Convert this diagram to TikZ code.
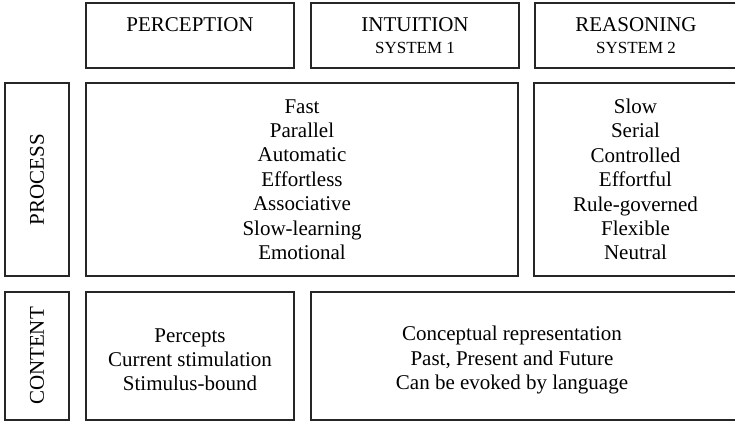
\documentclass[tikz,border=0pt]{standalone}
\usepackage{fontspec}
\setmainfont{Liberation Serif}
\usepackage{tikz}
\usetikzlibrary{positioning}

\newcommand{\bodyfont}{\fontsize{21}{24.4}\selectfont}
\newcommand{\subfont}{\fontsize{17}{20}\selectfont}
\newcommand{\topgap}{\rule{0pt}{21pt}}

\tikzset{
  cell/.style={draw=black!85,line width=1.1pt,inner sep=0pt,
               align=center,font=\bodyfont},
  sidecell/.style={cell,rotate=90,minimum width=#1,minimum height=64},
  txt/.style={align=center,font=\bodyfont,inner sep=0pt}
}

\begin{document}
\begin{tikzpicture}[x=1pt,y=-1pt]
  \useasboundingbox (0,0) rectangle (735,422);

  % column headers
  \node[cell,minimum width=208,minimum height=65] (perc) at (190,35.5)
    {PERCEPTION\\[-2pt]{\subfont\vphantom{SYSTEM 1}}};
  \node[cell,minimum width=208,minimum height=65] (intu) at (415,35.5)
    {INTUITION\\[-2pt]{\subfont SYSTEM 1}};
  \node[cell,minimum width=202,minimum height=65] (reas) at (636,35.5)
    {REASONING\\[-2pt]{\subfont SYSTEM 2}};

  % process row
  \node[sidecell=193] (process) at (37,179.5) {PROCESS};
  \node[cell,minimum width=432,minimum height=193] (procfast) at (302,179.5)
    {Fast\\Parallel\\Automatic\\Effortless\\Associative\\Slow-learning\\Emotional};
  \node[cell,minimum width=203,minimum height=193] (procslow) at (635.5,179.5)
    {Slow\\Serial\\Controlled\\Effortful\\Rule-governed\\Flexible\\Neutral};

  % content row
  \node[sidecell=128] (content) at (37,356) {CONTENT};
  \node[cell,minimum width=208,minimum height=128] (contperc) at (190,356)
    {\topgap Percepts\\Current stimulation\\Stimulus-bound};
  \node[cell,minimum width=426,minimum height=128] (contconc) at (524,356) {};
  \node[txt] (conctext) at ([xshift=-12pt,yshift=-4pt]contconc.center)
    {Conceptual representation\\Past, Present and Future\\Can be evoked by language};
\end{tikzpicture}
\end{document}
